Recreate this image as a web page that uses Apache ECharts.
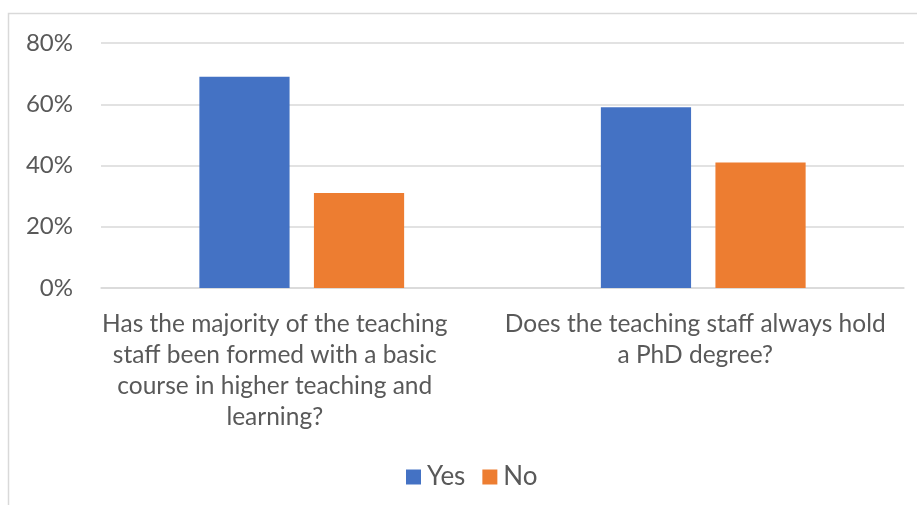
<!DOCTYPE html>
<html>
<head>
<meta charset="utf-8">
<script src="https://cdn.jsdelivr.net/npm/echarts@6/dist/echarts.min.js"></script>
<style>
html,body{margin:0;padding:0;background:#fff;}
#c{width:917px;height:505px;}
</style>
</head>
<body>
<div id="c"></div>
<script>
const categories = [
  "Has the majority of the teaching\nstaff been formed with a basic\ncourse in higher teaching and\nlearning?",
  "Does the teaching staff always hold\na PhD degree?"
];
const seriesNames = ["Yes", "No"];
const yesValues = [69, 59];
const noValues = [31, 41];
const yTicks = [0, 20, 40, 60, 80];

const labelPads = [[0, 54, 0, 0], [0, 16, 0, 0]];
const chart = echarts.init(document.getElementById('c'), null, {renderer: 'canvas'});
const font = 'Lato, "Open Sans", sans-serif';
chart.setOption({
  animation: false,
  backgroundColor: '#ffffff',
  graphic: [{
    type: 'rect',
    shape: {x: 8.5, y: 13.5, width: 940, height: 520},
    style: {fill: 'none', stroke: '#d9d9d9', lineWidth: 1.5},
    silent: true, z: -1
  }],
  grid: {left: 101, right: 13, top: 43, bottom: 217, containLabel: false},
  legend: {
    data: seriesNames,
    top: 459,
    left: 401,
    icon: 'rect',
    itemWidth: 15,
    itemHeight: 15,
    itemGap: 17,
    textStyle: {fontFamily: font, fontSize: 26, color: '#595959', padding: [0, 0, 0, 1]}
  },
  xAxis: {
    type: 'category',
    data: categories.map((c, i) => ({value: c, textStyle: {padding: labelPads[i]}})),
    axisLine: {show: true, lineStyle: {color: '#d9d9d9', width: 1.5}},
    axisTick: {show: false},
    axisLabel: {
      fontFamily: font, fontSize: 24.5, color: '#595959',
      lineHeight: 31, margin: 21, interval: 0, align: 'center'
    }
  },
  yAxis: {
    type: 'value',
    min: yTicks[0],
    max: yTicks[yTicks.length - 1],
    interval: 20,
    axisLine: {show: false},
    axisTick: {show: false},
    splitLine: {lineStyle: {color: '#d9d9d9', width: 1.5}},
    axisLabel: {
      fontFamily: font, fontSize: 24, color: '#595959', margin: 28,
      formatter: v => v + '%'
    }
  },
  series: [
    {
      name: seriesNames[0], type: 'bar', data: yesValues,
      itemStyle: {color: '#4472C4'},
      barGap: '27%', barCategoryGap: '49%'
    },
    {
      name: seriesNames[1], type: 'bar', data: noValues,
      itemStyle: {color: '#ED7D31'},
      barGap: '27%', barCategoryGap: '49%'
    }
  ]
});
</script>
</body>
</html>
